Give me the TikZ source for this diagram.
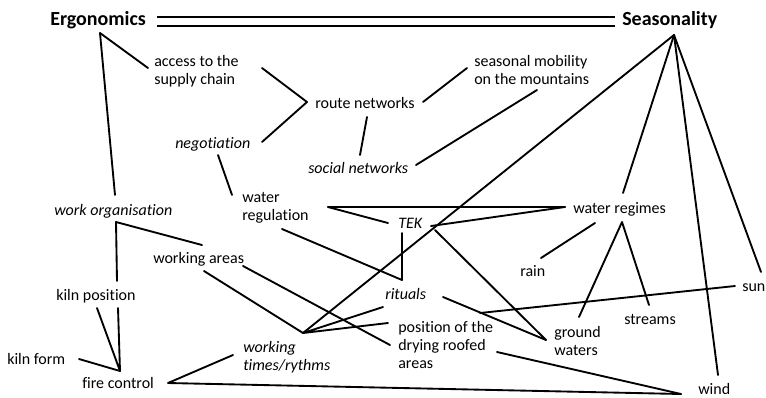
\documentclass[tikz,border=0pt]{standalone}
\usepackage{fontspec}
\setmainfont[Ligatures=NoCommon]{Carlito}
\begin{document}
\begin{tikzpicture}[x=0.75pt,y=-0.75pt,
  lbl/.style={inner sep=0pt, anchor=base west, font=\fontsize{12}{13.5}\selectfont, align=left},
  it/.style={lbl, font=\fontsize{12}{13.5}\selectfont\itshape},
  ttl/.style={inner sep=0pt, anchor=base west, font=\fontsize{15}{18}\selectfont\bfseries},
  conn/.style={line width=1.4pt, line cap=round, line join=round},
]
\useasboundingbox[fill=white] (0,0) rectangle (766,397);

% nodes (anchor = baseline of the last line)
\node[ttl] (erg) at (50,25) {Ergonomics};
\node[ttl] (sea) at (622,25) {Seasonality};
\node[lbl] (acc) at (154,84) {access to the\\supply chain};
\node[lbl] (route) at (315,108) {route networks};
\node[lbl] (mob) at (474,84) {seasonal mobility\\on the mountains};
\node[it] (nego) at (175,148) {negotiation};
\node[it] (soc) at (308,173) {social networks};
\node[lbl] (wreg) at (242,220) {water\\regulation};
\node[it] (worg) at (54,215) {work organisation};
\node[it] (tek) at (398,228) {TEK};
\node[lbl] (wrgm) at (573,213) {water regimes};
\node[lbl] (warea) at (153,263) {working areas};
\node[lbl] (rain) at (520,276) {rain};
\node[lbl] (kpos) at (56,300) {kiln position};
\node[it] (rit) at (385,299) {rituals};
\node[lbl] (sun) at (742,291) {sun};
\node[lbl] (str) at (624,324) {streams};
\node[lbl] (pos) at (398,368) {position of the\\drying roofed\\areas};
\node[lbl] (gw) at (554,355) {ground\\waters};
\node[it] (wt) at (243,370) {working\\times/rythms};
\node[lbl] (kform) at (7,364) {kiln form};
\node[lbl] (fire) at (82,388) {fire control};
\node[lbl] (wind) at (698,394) {wind};

% junction points
\coordinate (E) at ([shift={(50,8)}]erg.base west);
\coordinate (S) at ([shift={(52,10)}]sea.base west);
\coordinate (jR) at ([shift={(-8,-6)}]route.base west);
\coordinate (jW) at ([shift={(60,-37)}]wt.base west);
\coordinate (jWR) at ([shift={(-8,-6)}]wrgm.base west);
\coordinate (jRit) at ([shift={(17,-19)}]rit.base west);
\coordinate (jGW) at ([shift={(-8,-15)}]gw.base west);
\coordinate (jWRb) at ([shift={(49,9)}]wrgm.base west);
\coordinate (jO) at ([shift={(62,7)}]worg.base west);
\coordinate (jF) at ([shift={(38,-17)}]fire.base west);
\coordinate (jFr) at ([shift={(86,-5)}]fire.base west);
\coordinate (jWind) at ([shift={(-17,0)}]wind.base west);
\coordinate (jWreg) at ([shift={(86,-13)}]wreg.base west);

% connectors
\draw[line width=1.4pt, double, double distance=5pt] ([shift={(107,-3.5)}]erg.base west) -- ([shift={(-7,-3.5)}]sea.base west);
\draw[conn] (E) -- ([shift={(-6,-16)}]acc.base west);
\draw[conn] (E) -- ([shift={(61,-20)}]worg.base west);
\draw[conn] ([shift={(108,-16)}]acc.base west) -- (jR) -- ([shift={(87,-6)}]nego.base west);
\draw[conn] ([shift={(52,9)}]route.base west) -- ([shift={(52,-18)}]soc.base west);
\draw[conn] ([shift={(108,-6)}]route.base west) -- ([shift={(-7,-16)}]mob.base west);
\draw[conn] ([shift={(108,-8)}]soc.base west) -- ([shift={(63,6)}]mob.base west);
\draw[conn] ([shift={(43,7)}]nego.base west) -- ([shift={(-10,-25)}]wreg.base west);
\draw[conn] (S) -- (jW);
\draw[conn] (S) -- ([shift={(50,-20)}]wrgm.base west);
\draw[conn] (S) -- ([shift={(20,-19)}]wind.base west);
\draw[conn] (S) -- ([shift={(19,-19)}]sun.base west);
\draw[conn] (jWreg) -- (jWR);
\draw[conn] (jWreg) -- ([shift={(-10,-5)}]tek.base west);
\draw[conn] ([shift={(33,-2)}]tek.base west) -- (jWR);
\draw[conn] ([shift={(40,9)}]wreg.base west) -- (jRit);
\draw[conn] ([shift={(4,5)}]tek.base west) -- (jRit);
\draw[conn] ([shift={(37,2)}]tek.base west) -- (jGW);
\draw[conn] ([shift={(58,-2)}]rit.base west) -- (jGW);
\draw[conn] ([shift={(22,10)}]wrgm.base west) -- ([shift={(21,-18)}]rain.base west);
\draw[conn] ([shift={(25,-38)}]gw.base west) -- (jWRb) -- ([shift={(25,-19)}]str.base west);
\draw[conn] ([shift={(61,-19)}]kpos.base west) -- (jO) -- ([shift={(49,-18)}]warea.base west);
\draw[conn] ([shift={(41,8)}]kpos.base west) -- (jF) -- ([shift={(62,8)}]kpos.base west);
\draw[conn] ([shift={(72,-5)}]kform.base west) -- (jF);
\draw[conn] ([shift={(-10,-15)}]wt.base west) -- (jFr) -- (jWind);
\draw[conn] ([shift={(51,8)}]warea.base west) -- (jW);
\draw[conn] ([shift={(90,3)}]warea.base west) -- ([shift={(-8,-23)}]pos.base west);
\draw[conn] ([shift={(-2,8)}]rit.base west) -- (jW) -- ([shift={(-10,-45)}]pos.base west);
\draw[conn] ([shift={(82,-55)}]pos.base west) -- ([shift={(-7,-5)}]sun.base west);
\draw[conn] ([shift={(99,-16)}]pos.base west) -- (jWind);
\end{tikzpicture}
\end{document}
